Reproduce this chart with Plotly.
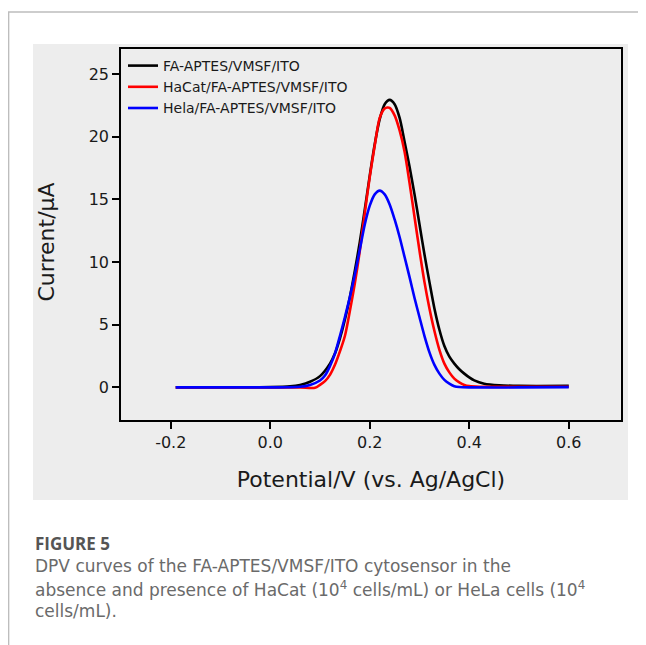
import plotly.graph_objects as go

# ---- data ----
series_names = ["FA-APTES/VMSF/ITO", "HaCat/FA-APTES/VMSF/ITO", "Hela/FA-APTES/VMSF/ITO"]
series_colors = ["#000000", "#ff0000", "#0000ff"]

black_x = [-0.19, 0.0, 0.04, 0.06, 0.08, 0.10, 0.12, 0.13, 0.14, 0.15, 0.16, 0.17, 0.18, 0.19, 0.20,
           0.21, 0.22, 0.23, 0.24, 0.25, 0.26, 0.27, 0.28, 0.29, 0.30, 0.31, 0.32, 0.33, 0.34, 0.35,
           0.36, 0.37, 0.38, 0.39, 0.40, 0.41, 0.43, 0.46, 0.50, 0.60]
black_y = [0.0, 0.02, 0.08, 0.2, 0.45, 0.9, 1.9, 2.7, 3.9, 5.4, 7.2, 9.3, 11.6, 14.2, 16.9,
           19.4, 21.4, 22.6, 22.94, 22.6, 21.5, 19.6, 17.6, 15.4, 13.0, 10.6, 8.4, 6.3, 4.6, 3.3,
           2.45, 1.9, 1.45, 1.1, 0.8, 0.56, 0.3, 0.17, 0.12, 0.12]

red_x = [-0.19, 0.0, 0.06, 0.09, 0.10, 0.11, 0.12, 0.13, 0.14, 0.15, 0.16, 0.17, 0.18, 0.19, 0.20,
         0.21, 0.22, 0.23, 0.2355, 0.24, 0.25, 0.26, 0.27, 0.28, 0.29, 0.30, 0.31, 0.32, 0.33, 0.34,
         0.35, 0.36, 0.37, 0.38, 0.39, 0.40, 0.42, 0.50, 0.60]
red_y = [0.0, 0.0, 0.0, -0.03, 0.2, 0.5, 1.0, 1.8, 2.87, 4.1, 6.1, 8.3, 10.9, 13.9, 16.8,
         19.3, 21.5, 22.25, 22.33, 22.3, 21.7, 20.5, 18.8, 16.3, 13.6, 10.9, 8.4, 6.3, 4.5, 3.0,
         1.9, 1.2, 0.7, 0.4, 0.2, 0.1, 0.05, 0.05, 0.05]

blue_x = [-0.19, 0.0, 0.06, 0.08, 0.10, 0.11, 0.12, 0.13, 0.14, 0.15, 0.16, 0.17, 0.18, 0.19, 0.20,
          0.21, 0.22, 0.23, 0.24, 0.25, 0.26, 0.27, 0.28, 0.29, 0.30, 0.31, 0.32, 0.33, 0.34, 0.35,
          0.36, 0.37, 0.38, 0.40, 0.50, 0.60]
blue_y = [0.0, 0.0, 0.05, 0.2, 0.55, 0.95, 1.7, 2.7, 4.1, 5.6, 7.2, 9.0, 11.0, 13.0, 14.5,
          15.4, 15.7, 15.4, 14.6, 13.4, 12.0, 10.4, 8.8, 7.13, 5.6, 4.1, 2.8, 1.8, 1.1, 0.6,
          0.3, 0.1, 0.03, 0.0, 0.0, 0.02]

x_tick_vals = [-0.2, 0.0, 0.2, 0.4, 0.6]
x_tick_text = ["-0.2", "0.0", "0.2", "0.4", "0.6"]
y_tick_vals = [0, 5, 10, 15, 20, 25]
y_tick_text = ["0", "5", "10", "15", "20", "25"]

x_title = "Potential/V (vs. Ag/AgCl)"
y_title = "Current/μA"
caption_head = "FIGURE 5"
caption_lines = [
    "DPV curves of the FA-APTES/VMSF/ITO cytosensor in the",
    "absence and presence of HaCat (10<sup>4</sup> cells/mL) or HeLa cells (10<sup>4</sup>",
    "cells/mL).",
]

# ---- figure ----
OFF = 8  # page body margin
W, H = 646 - OFF, 645 - OFF
L, R, T, B = 121 - OFF, 621 - OFF, 49 - OFF, 420 - OFF
pw, ph = R - L, B - T


def px(x):  # page pixel -> paper x
    return (x - OFF - L) / pw


def py(y):  # page pixel -> paper y
    return (B - (y - OFF)) / ph


fig = go.Figure()
for name, col, xs, ys in zip(series_names, series_colors,
                             [black_x, red_x, blue_x], [black_y, red_y, blue_y]):
    fig.add_trace(go.Scatter(x=xs, y=ys, name=name, mode="lines",
                             line=dict(color=col, width=2.6, shape="spline", smoothing=0.8)))

chart_font = "DejaVu Sans, Liberation Sans, Arial, sans-serif"
txt = "#1a1a1a"
tick_font = dict(family=chart_font, size=16, color=txt)

fig.update_layout(
    width=W, height=H,
    margin=dict(l=L, r=W - R, t=T, b=H - B),
    paper_bgcolor="#ffffff",
    plot_bgcolor="#eeeeee",
    font=dict(family=chart_font, color=txt),
    showlegend=True,
    legend=dict(x=px(123), y=py(50), xanchor="left", yanchor="top",
                bgcolor="rgba(0,0,0,0)", font=dict(family=chart_font, size=14, color=txt),
                tracegroupgap=0, itemwidth=30),
    xaxis=dict(range=[-0.3, 0.705], tickvals=x_tick_vals, ticktext=x_tick_text,
               ticks="outside", ticklen=7, tickwidth=1.5, tickcolor="#000",
               showline=True, linecolor="#000", linewidth=1.6, mirror=True,
               showgrid=False, zeroline=False, tickfont=tick_font,
               title=dict(text=x_title, font=dict(family=chart_font, size=22, color=txt), standoff=21)),
    yaxis=dict(range=[-2.6, 27.0], tickvals=y_tick_vals, ticktext=y_tick_text,
               ticks="outside", ticklen=7, tickwidth=1.5, tickcolor="#000",
               showline=True, linecolor="#000", linewidth=1.6, mirror=True,
               showgrid=False, zeroline=False, tickfont=tick_font),
)

# y-axis title (placed slightly below centre, as in the reference)
fig.add_annotation(text=y_title, xref="paper", yref="paper", x=px(46), y=py(242.5),
                   xanchor="center", yanchor="middle", textangle=-90, showarrow=False,
                   font=dict(family=chart_font, size=22, color=txt))

# gray figure-image background and card borders
fig.add_shape(type="rect", xref="paper", yref="paper", x0=px(33), x1=px(628), y0=py(500), y1=py(44),
              fillcolor="#ededed", line=dict(width=0), layer="below")
fig.add_shape(type="line", xref="paper", yref="paper", x0=px(8), x1=px(646), y0=py(12), y1=py(12),
              line=dict(color="#bdbdbd", width=1.5))
fig.add_shape(type="line", xref="paper", yref="paper", x0=px(8.6), x1=px(8.6), y0=py(12), y1=py(646),
              line=dict(color="#bdbdbd", width=1.5))

cap_font = "DejaVu Sans, Open Sans, sans-serif"
fig.add_annotation(text="<b>" + caption_head + "</b>", xref="paper", yref="paper",
                   x=px(33), y=py(543), xanchor="left", yanchor="middle", showarrow=False,
                   font=dict(family="Open Sans, sans-serif", size=17, color="#555555"))
for i, line in enumerate(caption_lines):
    fig.add_annotation(text=line, xref="paper", yref="paper",
                       x=px(33), y=py(566 + 22.5 * i), xanchor="left", yanchor="middle",
                       showarrow=False, font=dict(family=cap_font, size=17, color="#6a6a6a"))

fig.write_html("out.html")
